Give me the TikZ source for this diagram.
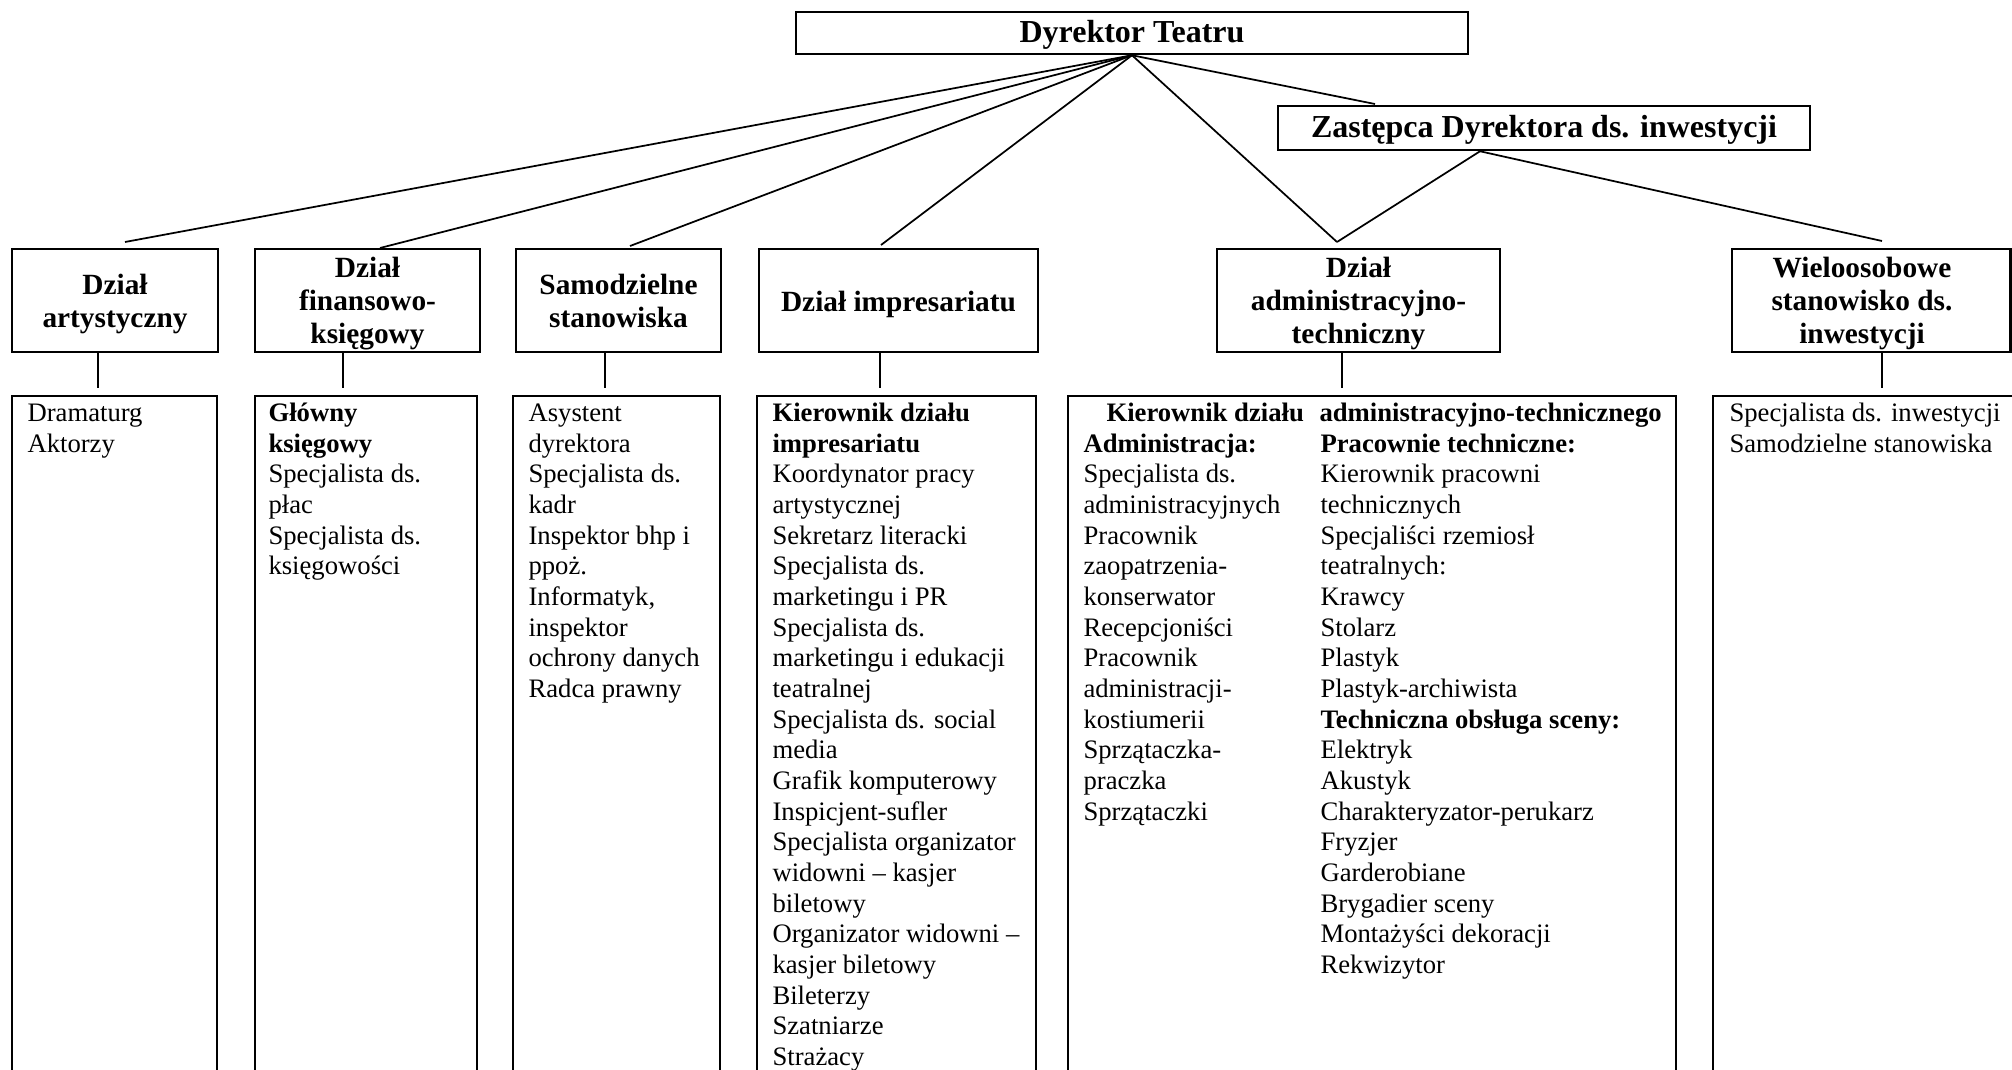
\documentclass[tikz,border=0pt]{standalone}
\usepackage{fontspec}
\setmainfont{Liberation Serif}
\usetikzlibrary{fit}
\begin{document}
\begin{tikzpicture}[x=0.375pt,y=-0.375pt,
  boxline/.style={draw,line width=0.95pt,inner sep=0pt,rectangle},
  conn/.style={line width=0.65pt},
  headA/.style={font=\fontsize{12}{13.8}\selectfont\bfseries,inner sep=0pt,anchor=base},
  headB/.style={font=\fontsize{11}{12.4}\selectfont\bfseries,inner sep=0pt,anchor=north,align=center},
  body/.style={font=\fontsize{10}{11.5}\selectfont,inner sep=0pt,anchor=north west,align=left},
  bodyb/.style={font=\fontsize{10}{11.5}\selectfont\bfseries,inner sep=0pt,anchor=base west}
]
\useasboundingbox (0,0) rectangle (2012,1070);
\fill[white] (0,0) rectangle (2012,1070);
\clip (0,0) rectangle (2012,1070);

% top level
\node[boxline,fit={(796,12)(1468,54)}] (dyr) {};
\node[headA] (dyrT) at (1132,42.7) {Dyrektor Teatru};
\node[boxline,fit={(1278,106)(1810,150)}] (zas) {};
\node[headA] (zasT) at (1544,137) {Zastępca Dyrektora ds. inwestycji};

% second row
\node[boxline,fit={(12,249)(218,352)}] (art) {};
\node[boxline,fit={(255,249)(480,352)}] (fin) {};
\node[boxline,fit={(516,249)(721,352)}] (sam) {};
\node[boxline,fit={(759,249)(1038,352)}] (imp) {};
\node[boxline,fit={(1217,249)(1500,352)}] (adm) {};
\node[boxline,fit={(1732,249)(2010.5,352)}] (wie) {};

\node[headB] (artT) at (115,270.85) {\strut Dział\\artystyczny};
\node[headB] (finT) at (367.5,253.85) {\strut Dział\\finansowo-\\księgowy};
\node[headB] (samT) at (618.5,270.85) {\strut Samodzielne\\stanowiska};
\node[headB] (impT) at (898.5,287.85) {\strut Dział impresariatu};
\node[headB] (admT) at (1358.5,253.85) {\strut Dział\\administracyjno-\\techniczny};
\node[headB] (wieT) at (1862,253.85) {\strut Wieloosobowe\\stanowisko ds.\\inwestycji};

% connectors from the director
\coordinate (tA) at (125,242);
\coordinate (tF) at (380,248);
\coordinate (tS) at (630,246);
\coordinate (tI) at (881,245);
\coordinate (tD) at (1337,242);
\coordinate (tZ) at (1375,104);
\coordinate (tW) at (1882,241);
\draw[conn] (dyr.south) -- (tA);
\draw[conn] (dyr.south) -- (tF);
\draw[conn] (dyr.south) -- (tS);
\draw[conn] (dyr.south) -- (tI);
\draw[conn] (dyr.south) -- (tD);
\draw[conn] (dyr.south) -- (tZ);
\draw[conn] ([xshift=-24pt]zas.south) -- (tD);
\draw[conn] ([xshift=-24pt]zas.south) -- (tW);

% third row
\node[boxline,fit={(12,396)(217,1090)}] (artL) {};
\node[boxline,fit={(255,396)(477,1090)}] (finL) {};
\node[boxline,fit={(513,396)(720,1090)}] (samL) {};
\node[boxline,fit={(757,396)(1036,1090)}] (impL) {};
\node[boxline,fit={(1068,396)(1676,1090)}] (admL) {};
\node[boxline,fit={(1713,396)(2030,1090)}] (wieL) {};

% vertical connectors
\coordinate (vA) at (98,388);
\coordinate (vF) at (343,388);
\coordinate (vS) at (605,388);
\coordinate (vI) at (880,388);
\coordinate (vD) at (1342,388);
\coordinate (vW) at (1882,388);
\draw[conn] (art.south -| vA) -- (vA);
\draw[conn] (fin.south -| vF) -- (vF);
\draw[conn] (sam.south -| vS) -- (vS);
\draw[conn] (imp.south -| vI) -- (vI);
\draw[conn] (adm.south -| vD) -- (vD);
\draw[conn] (wie.south -| vW) -- (vW);

% lists
\node[body] (artX) at (27,399.5) {\strut Dramaturg\\Aktorzy};
\node[body] (finX) at (268,399.5) {\strut\textbf{Główny}\\\textbf{księgowy}\\Specjalista ds.\\płac\\Specjalista ds.\\księgowości};
\node[body] (samX) at (528,399.5) {\strut Asystent\\dyrektora\\Specjalista ds.\\kadr\\Inspektor bhp i\\ppoż.\\Informatyk,\\inspektor\\ochrony danych\\Radca prawny};
\node[body] (impX) at (772,399.5) {\strut\textbf{Kierownik działu}\\\textbf{impresariatu}\\Koordynator pracy\\artystycznej\\Sekretarz literacki\\Specjalista ds.\\marketingu i PR\\Specjalista ds.\\marketingu i edukacji\\teatralnej\\Specjalista ds. social\\media\\Grafik komputerowy\\Inspicjent-sufler\\Specjalista organizator\\widowni – kasjer\\biletowy\\Organizator widowni –\\kasjer biletowy\\Bileterzy\\Szatniarze\\Strażacy};
\node[bodyb] (admH1) at (1106,421) {Kierownik działu};
\node[bodyb] (admH2) at (1319,421) {administracyjno-technicznego};
\node[body] (admXL) at (1083,430.2) {\strut\textbf{Administracja:}\\Specjalista ds.\\administracyjnych\\Pracownik\\zaopatrzenia-\\konserwator\\Recepcjoniści\\Pracownik\\administracji-\\kostiumerii\\Sprzątaczka-\\praczka\\Sprzątaczki};
\node[body] (admXR) at (1320,430.2) {\strut\textbf{Pracownie techniczne:}\\Kierownik pracowni\\technicznych\\Specjaliści rzemiosł\\teatralnych:\\Krawcy\\Stolarz\\Plastyk\\Plastyk-archiwista\\\textbf{Techniczna obsługa sceny:}\\Elektryk\\Akustyk\\Charakteryzator-perukarz\\Fryzjer\\Garderobiane\\Brygadier sceny\\Montażyści dekoracji\\Rekwizytor};
\node[body] (wieX) at (1729,399.5) {\strut Specjalista ds. inwestycji\\Samodzielne stanowiska};
\end{tikzpicture}
\end{document}
